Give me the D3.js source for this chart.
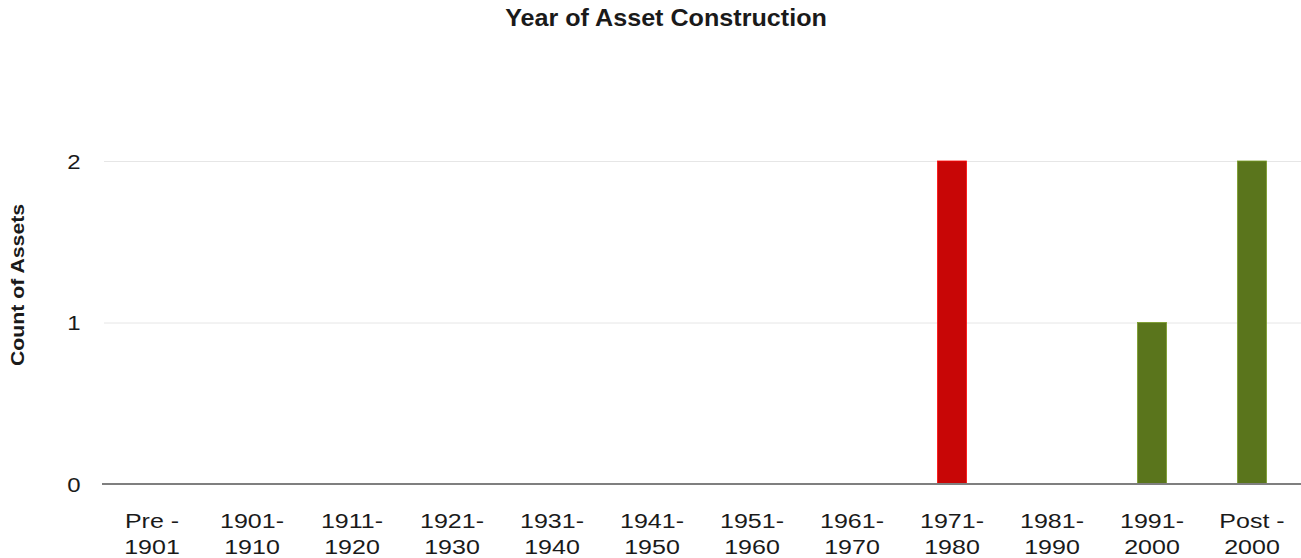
<!DOCTYPE html>
<html>
<head>
<meta charset="utf-8">
<script src="https://cdn.jsdelivr.net/npm/d3@7"></script>
<style>
  body { margin: 0; background: #fff; }
  text { font-family: "Liberation Sans", Arial, sans-serif; fill: #1a1a1a; }
</style>
</head>
<body>
<div id="chart"></div>
<script>
var categories = [["Pre -", "1901"], ["1901-", "1910"], ["1911-", "1920"], ["1921-", "1930"],
                  ["1931-", "1940"], ["1941-", "1950"], ["1951-", "1960"], ["1961-", "1970"],
                  ["1971-", "1980"], ["1981-", "1990"], ["1991-", "2000"], ["Post -", "2000"]];
var counts = [0, 0, 0, 0, 0, 0, 0, 0, 2, 0, 1, 2];
var barColors = ["#c80606", "#c80606", "#c80606", "#c80606", "#c80606", "#c80606",
                 "#c80606", "#c80606", "#c80606", "#5a751c", "#5a751c", "#5a751c"];
var yTicks = [0, 1, 2];

var width = 1301, height = 558;
var margin = {top: 161, right: -1, bottom: 74, left: 102};
var chartWidth = width - margin.left - margin.right;
var chartHeight = height - margin.top - margin.bottom;

var svg = d3.select("#chart").append("svg")
    .attr("width", width)
    .attr("height", height);

// the original text is drawn a bit wider than Arial, so stretch it horizontally
svg.append("text")
    .attr("transform", "translate(666,26) scale(1.07,1)")
    .attr("text-anchor", "middle")
    .style("font-size", "23.5px")
    .style("font-weight", "bold")
    .text("Year of Asset Construction");

svg.append("text")
    .attr("transform", "translate(24,285) rotate(-90) scale(1.12,1)")
    .attr("text-anchor", "middle")
    .style("font-size", "19px")
    .style("font-weight", "bold")
    .text("Count of Assets");

var g = svg.append("g")
    .attr("transform", `translate(${margin.left}, ${margin.top})`);

var keys = categories.map(d => d.join(" "));

var xScale = d3.scaleBand()
    .domain(keys)
    .range([0, chartWidth])
    .paddingInner(0.71)
    .paddingOuter(0.355);

var yScale = d3.scaleLinear()
    .domain([0, 2])
    .range([chartHeight, 0]);

// gridlines
g.selectAll(".grid")
    .data(yTicks.filter(d => d > 0))
    .enter().append("line")
    .attr("x1", 2)
    .attr("x2", chartWidth)
    .attr("y1", d => yScale(d) + 0.5)
    .attr("y2", d => yScale(d) + 0.5)
    .attr("stroke", "#e6e6e6")
    .attr("stroke-width", 1);

var yAxis = d3.axisLeft(yScale)
    .tickValues(yTicks)
    .tickFormat("")
    .tickSize(0);

var yg = g.append("g")
    .attr("class", "y axis")
    .call(yAxis);
yg.select(".domain").remove();
yg.selectAll(".tick").append("text")
    .attr("transform", "translate(-28,0) scale(1.2,1)")
    .attr("text-anchor", "middle")
    .attr("dy", "0.36em")
    .style("font-size", "20px")
    .text(d => d3.format("d")(d));

g.selectAll(".bar")
    .data(counts)
    .enter().append("rect")
    .attr("class", "bar")
    .attr("x", (d, i) => xScale(keys[i]))
    .attr("y", d => yScale(d))
    .attr("width", xScale.bandwidth())
    .attr("height", d => chartHeight - yScale(d))
    .attr("fill", (d, i) => barColors[i])
    .attr("stroke", (d, i) => d3.color(barColors[i]).brighter(0.8))
    .attr("stroke-width", 0.8);

// baseline
g.append("line")
    .attr("x1", 0)
    .attr("x2", chartWidth)
    .attr("y1", chartHeight)
    .attr("y2", chartHeight)
    .attr("stroke", "#7f7f7f")
    .attr("stroke-width", 2);

var xAxis = d3.axisBottom(xScale).tickSize(0).tickFormat("");
var xg = g.append("g")
    .attr("class", "x axis")
    .attr("transform", `translate(0,${chartHeight})`)
    .call(xAxis);
xg.select(".domain").remove();

xg.selectAll(".tick").each(function(d, i) {
  var t = d3.select(this).append("text")
      .attr("transform", "scale(1.25,1)")
      .attr("text-anchor", "middle")
      .style("font-size", "20px");
  t.append("tspan").attr("x", 0).attr("y", 44).text(categories[i][0]);
  t.append("tspan").attr("x", 0).attr("y", 70).text(categories[i][1]);
});
</script>
</body>
</html>
